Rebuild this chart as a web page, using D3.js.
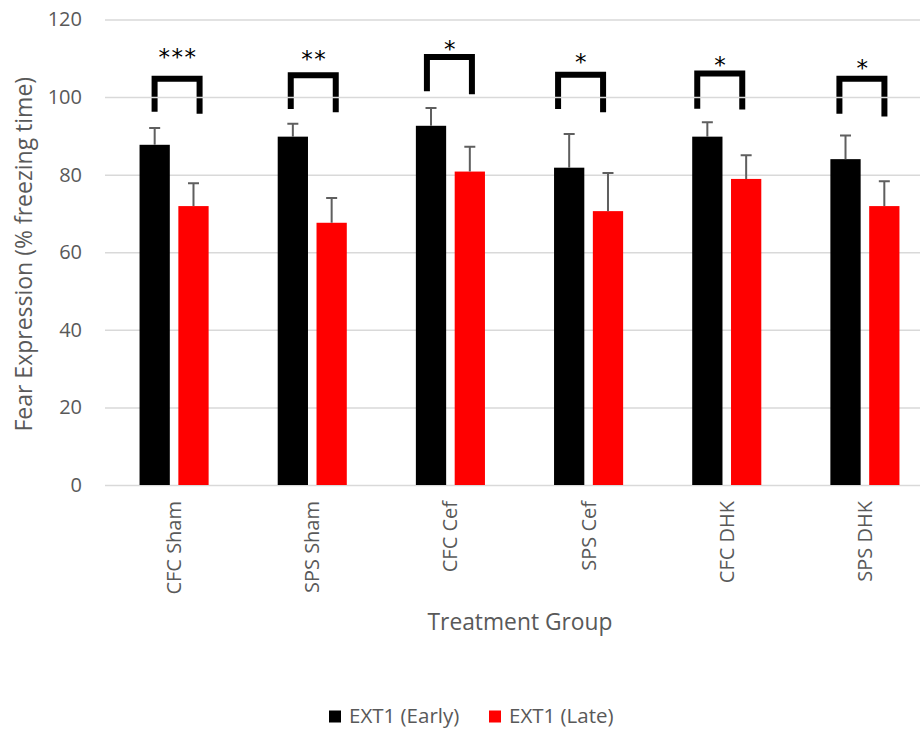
<!DOCTYPE html>
<html>
<head>
<meta charset="utf-8">
<script src="https://cdn.jsdelivr.net/npm/d3@7"></script>
<style>
  html, body { margin: 0; padding: 0; background: #fff; }
  svg { display: block; font-family: "Open Sans", "Noto Sans", sans-serif; }
</style>
</head>
<body>
<svg id="chart" width="923" height="730"></svg>
<script>
// ---- data ----
const categories = ["CFC Sham", "SPS Sham", "CFC Cef", "SPS Cef", "CFC DHK", "SPS DHK"];
const seriesNames = ["EXT1 (Early)", "EXT1 (Late)"];
const earlyValues = [87.7, 89.8, 92.6, 81.8, 89.8, 84.0];
const earlyErrors = [4.3, 3.3, 4.6, 8.7, 3.7, 6.1];
const lateValues  = [71.9, 67.6, 80.8, 70.6, 78.9, 71.9];
const lateErrors  = [5.9, 6.4, 6.4, 9.8, 6.1, 6.4];
const yTicks = [0, 20, 40, 60, 80, 100, 120];
// significance annotations (in data units)
const sigLabels      = ["***", "**", "*", "*", "*", "*"];
const bracketTop     = [105.4, 106.3, 111.0, 106.4, 106.7, 105.4];
const bracketLeftEnd = [96.2, 96.9, 101.5, 96.9, 97.0, 95.7];
const bracketRightEnd= [95.7, 96.1, 100.7, 96.1, 96.8, 95.0];
const starLevel      = [111.5, 111.0, 113.6, 110.3, 109.6, 108.7];

// ---- layout ----
const bracketShift = [3, 1, -1, -8, -7, -3];   // px offset of hand-placed brackets
const colors = ["#000000", "#ff0000"];
const svg = d3.select("#chart");

const x0 = d3.scaleBand().domain(categories).range([105, 934]).paddingInner(0.5).paddingOuter(0.25);
const x1 = d3.scaleBand().domain(seriesNames).range([0, x0.bandwidth()]).paddingInner(0.22);
const y = d3.scaleLinear().domain([0, 120]).range([485, 19.5]);

const rows = categories.map((c, i) => ({
  cat: c,
  vals: [
    { s: seriesNames[0], v: earlyValues[i], e: earlyErrors[i] },
    { s: seriesNames[1], v: lateValues[i], e: lateErrors[i] }
  ]
}));

// brackets (drawn under gridlines, as in the original)
const bw = 45;
const bg = svg.append("g");
categories.forEach((c, i) => {
  const cx = x0(c) + x0.bandwidth() / 2 + bracketShift[i];
  const xl = cx - bw / 2, xr = cx + bw / 2;
  const yt = y(bracketTop[i]) + 2.5;
  bg.append("path")
    .attr("d", `M${xl},${y(bracketLeftEnd[i])} V${yt} H${xr} V${y(bracketRightEnd[i])}`)
    .attr("fill", "none").attr("stroke", "#000").attr("stroke-width", 6)
    .attr("stroke-linejoin", "miter");
  bg.append("text")
    .attr("x", cx + 1).attr("y", y(starLevel[i]) + 13)
    .attr("text-anchor", "middle")
    .attr("font-family", "DejaVu Sans, sans-serif")
    .attr("font-size", 23).attr("letter-spacing", 1.5)
    .attr("fill", "#000")
    .text(sigLabels[i]);
});

// gridlines
const yAxis = d3.axisLeft(y).tickValues(yTicks).tickSize(-(920 - 105)).tickPadding(23);
const ga = svg.append("g").attr("transform", "translate(105,0)").call(yAxis);
ga.select(".domain").remove();
ga.selectAll(".tick line").attr("stroke", "#d9d9d9").attr("stroke-width", 1.5);
ga.selectAll(".tick text").attr("fill", "#595959").attr("font-size", 20)
  .attr("font-family", "Open Sans, sans-serif");

// bars
const groups = svg.append("g").selectAll("g").data(rows).join("g")
  .attr("transform", d => `translate(${x0(d.cat)},0)`);
groups.selectAll("rect").data(d => d.vals).join("rect")
  .attr("x", d => x1(d.s))
  .attr("y", d => y(d.v))
  .attr("width", x1.bandwidth())
  .attr("height", d => y(0) - y(d.v))
  .attr("fill", (d, j) => colors[seriesNames.indexOf(d.s)]);

// error bars (upper only)
groups.selectAll("path.err").data(d => d.vals).join("path")
  .attr("class", "err")
  .attr("d", d => {
    const cx = x1(d.s) + x1.bandwidth() / 2;
    return `M${cx},${y(d.v)} V${y(d.v + d.e)} M${cx - 5.5},${y(d.v + d.e)} H${cx + 5.5}`;
  })
  .attr("fill", "none").attr("stroke", "#5f5f5f").attr("stroke-width", 2);

// x axis labels
const xAxis = d3.axisBottom(x0).tickSize(0).tickPadding(0);
const gx = svg.append("g").attr("transform", `translate(0,${y(0)})`).call(xAxis);
gx.select(".domain").remove();
gx.selectAll(".tick text")
  .attr("fill", "#595959").attr("font-size", 20)
  .attr("font-family", "Open Sans, sans-serif")
  .attr("text-anchor", "end")
  .attr("transform", "rotate(-90)")
  .attr("x", -16).attr("y", 0).attr("dy", "0.35em");

// axis titles
svg.append("text")
  .attr("x", 520).attr("y", 630)
  .attr("text-anchor", "middle").attr("fill", "#595959").attr("font-size", 22.8)
  .text("Treatment Group");
svg.append("text")
  .attr("transform", `translate(32,${(y(0) + y(120)) / 2 + 2}) rotate(-90)`)
  .attr("text-anchor", "middle").attr("fill", "#595959").attr("font-size", 23)
  .text("Fear Expression (% freezing time)");

// legend
const legend = svg.append("g");
const legX = [329, 489];
seriesNames.forEach((s, i) => {
  legend.append("rect").attr("x", legX[i]).attr("y", 710.5).attr("width", 12).attr("height", 12)
    .attr("fill", colors[i]);
  legend.append("text").attr("x", legX[i] + 20).attr("y", 723)
    .attr("fill", "#595959").attr("font-size", 20.5).text(s);
});
</script>
</body>
</html>
